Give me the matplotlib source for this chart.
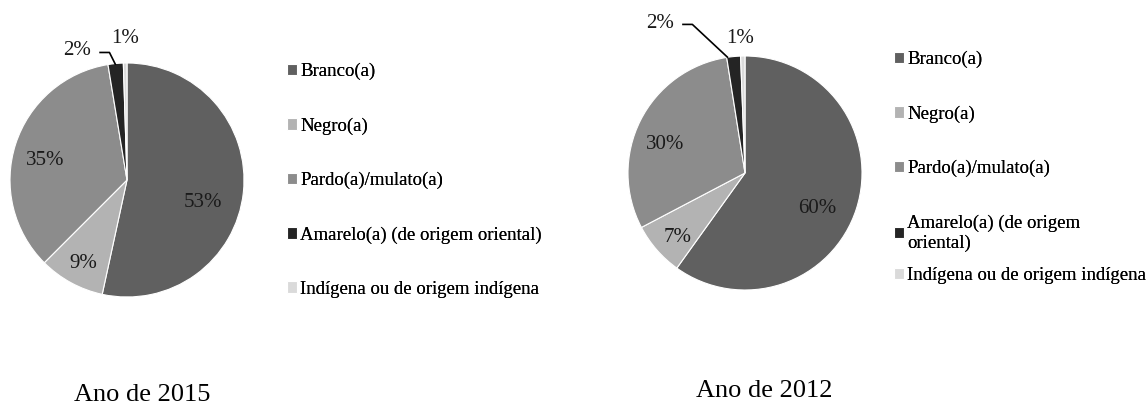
import matplotlib
matplotlib.use("Agg")
import matplotlib.pyplot as plt

plt.rcParams['font.family'] = ['Liberation Serif', 'DejaVu Serif']

categories = ["Branco(a)", "Negro(a)", "Pardo(a)/mulato(a)",
              "Amarelo(a) (de origem oriental)", "Indígena ou de origem indígena"]
categories_2012 = ["Branco(a)", "Negro(a)", "Pardo(a)/mulato(a)",
                   "Amarelo(a) (de origem\noriental)", "Indígena ou de origem indígena"]
values_2015 = [53.4, 9.1, 34.9, 2.1, 0.5]
values_2012 = [59.9, 7.4, 30.2, 1.9, 0.6]
labels_2015 = ["53%", "9%", "35%", "2%", "1%"]
labels_2012 = ["60%", "7%", "30%", "2%", "1%"]
titles = ["Ano de 2015", "Ano de 2012"]

colors = ["#606060", "#b3b3b3", "#8c8c8c", "#242424", "#dadada"]

W, H = 1148, 405
fig = plt.figure(figsize=(W / 100, H / 100), dpi=100)


def legend_block(handles, cats, x, y, spacing):
    leg = fig.legend(handles, cats, loc='upper left',
                     bbox_to_anchor=(x / W, 1 - y / H),
                     frameon=False, fontsize=13.5, handlelength=0.55, handleheight=0.55,
                     handletextpad=0.15, labelspacing=spacing, borderpad=0,
                     borderaxespad=0)
    fig.add_artist(leg)
    return leg


def add_pie(cx, cy, r, values, labels, label_pos, leader, legend_cats,
            legend_groups, title, title_xy):
    ax = fig.add_axes([(cx - r) / W, (H - cy - r) / H, 2 * r / W, 2 * r / H])
    wedges, _ = ax.pie(values, colors=colors, startangle=90, counterclock=False,
                       radius=1, wedgeprops=dict(edgecolor='white', linewidth=0.8))
    ax.set_xlim(-1, 1)
    ax.set_ylim(-1, 1)
    ax.set_aspect('equal')
    ax.axis('off')
    for lab, (x, y) in zip(labels, label_pos):
        ax.text(x, y, lab, ha='center', va='center', fontsize=15, color='#1a1a1a')
    lx, ly = zip(*leader)
    ax.plot(lx, ly, color='black', lw=1.2, clip_on=False)
    for (i0, i1, x, y, sp) in legend_groups:
        legend_block(wedges[i0:i1], legend_cats[i0:i1], x, y, sp)
    fig.text(title_xy[0] / W, 1 - title_xy[1] / H, title, ha='center', va='baseline',
             fontsize=19, color='black')
    return ax


add_pie(127, 180, 117, values_2015, labels_2015,
        [(0.65, -0.19), (-0.37, -0.71), (-0.70, 0.17), (-0.43, 1.11), (-0.02, 1.21)],
        [(-0.23, 1.09), (-0.15, 1.09), (-0.10, 0.99)],
        categories, [(0, 5, 287, 63, 1.98)], titles[0], (142, 401))

add_pie(745, 173, 117, values_2012, labels_2012,
        [(0.62, -0.30), (-0.58, -0.55), (-0.68, 0.24), (-0.73, 1.28), (-0.04, 1.15)],
        [(-0.53, 1.27), (-0.45, 1.27), (-0.15, 0.99)],
        categories_2012, [(0, 4, 894, 51, 1.98), (4, 5, 894, 267, 1.98)],
        titles[1], (764, 397))

fig.savefig("out.png", dpi=100, facecolor='white')
